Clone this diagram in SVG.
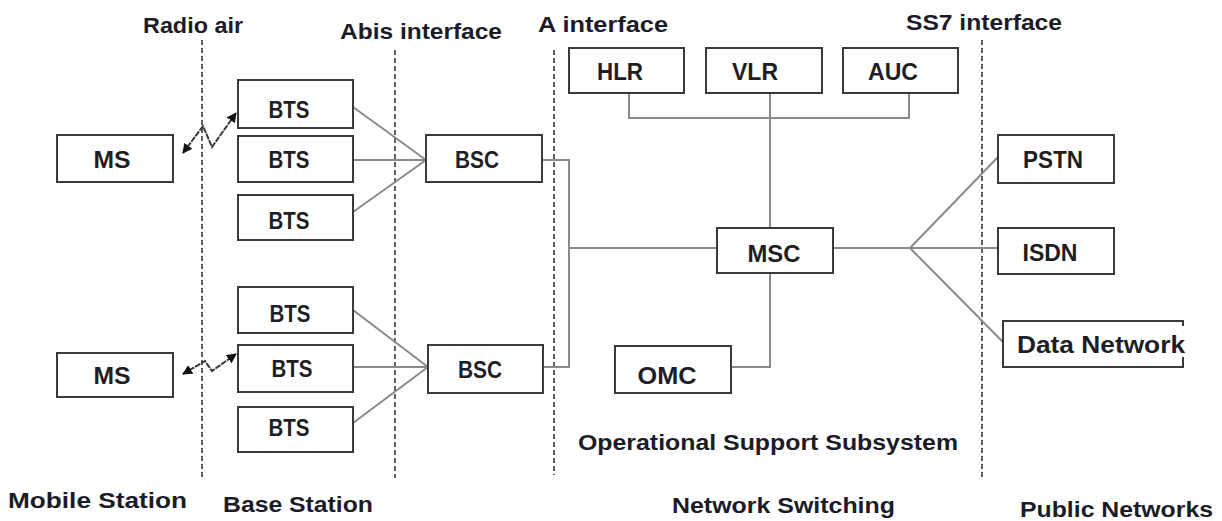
<svg xmlns="http://www.w3.org/2000/svg" width="1222" height="521" viewBox="0 0 1222 521">
<defs>
<style>
.box{fill:#fff;stroke:#3a3a3a;stroke-width:2}
.lbl{font-family:"Liberation Sans",Arial,sans-serif;font-weight:bold;font-size:23px;fill:#1e1e24;text-anchor:middle}
.hd{font-family:"Liberation Sans",Arial,sans-serif;font-weight:bold;font-size:22px;fill:#1c1c28}
.conn{fill:none;stroke:#8a8a8a;stroke-width:2}
.dash{fill:none;stroke:#3a3a3a;stroke-width:1.6;stroke-dasharray:5,3}
.radio{fill:none;stroke:#3a3a3a;stroke-width:2;stroke-dasharray:6,1}
</style>
<marker id="ah" viewBox="0 0 10 10" refX="9" refY="5" markerWidth="10" markerHeight="10" markerUnits="userSpaceOnUse" orient="auto-start-reverse">
<path d="M0,0 L10,5 L0,10 z" fill="#111"/>
</marker>
</defs>
<rect width="1222" height="521" fill="#fff"/>

<g id="interfaces">
<line class="dash" x1="202" y1="40" x2="202" y2="478"/>
<line class="dash" x1="395" y1="50" x2="395" y2="478"/>
<line class="dash" x1="554" y1="50" x2="554" y2="475"/>
<line class="dash" x1="982" y1="40" x2="982" y2="478"/>
</g>

<g id="headings">
<text class="hd" x="143" y="33" textLength="100" lengthAdjust="spacingAndGlyphs">Radio air</text>
<text class="hd" x="340" y="39" textLength="162" lengthAdjust="spacingAndGlyphs">Abis interface</text>
<text class="hd" x="538" y="32" textLength="130" lengthAdjust="spacingAndGlyphs">A interface</text>
<text class="hd" x="906" y="30" textLength="156" lengthAdjust="spacingAndGlyphs">SS7 interface</text>
<text class="hd" x="8" y="508" textLength="179" lengthAdjust="spacingAndGlyphs">Mobile Station</text>
<text class="hd" x="223" y="512" textLength="150" lengthAdjust="spacingAndGlyphs">Base Station</text>
<text class="hd" x="578" y="450" textLength="380" lengthAdjust="spacingAndGlyphs">Operational Support Subsystem</text>
<text class="hd" x="672" y="513" textLength="223" lengthAdjust="spacingAndGlyphs">Network Switching</text>
<text class="hd" x="1020" y="517" textLength="193" lengthAdjust="spacingAndGlyphs">Public Networks</text>
</g>

<g id="connectors">
<polyline class="conn" points="353,107 426,160"/>
<polyline class="conn" points="353,160 426,160"/>
<polyline class="conn" points="353,212 426,160"/>
<polyline class="conn" points="353,310 428,367"/>
<polyline class="conn" points="353,367 428,367"/>
<polyline class="conn" points="353,423 428,367"/>
<polyline class="conn" points="542,160 569,160 569,367 543,367"/>
<polyline class="conn" points="569,248 717,248"/>
<polyline class="conn" points="629,93 629,118 909,118 909,93"/>
<polyline class="conn" points="770,93 770,228"/>
<polyline class="conn" points="770,273 770,367 731,367"/>
<polyline class="conn" points="833,248 910,248"/>
<polyline class="conn" points="910,248 998,157"/>
<polyline class="conn" points="910,248 998,248"/>
<polyline class="conn" points="910,248 1003,342"/>
<polyline class="radio" points="183,153 203,126 212,147 236,113" marker-start="url(#ah)" marker-end="url(#ah)"/>
<polyline class="radio" points="183,374 205,361 212,371 236,354" marker-start="url(#ah)" marker-end="url(#ah)"/>
</g>

<g id="ms1"><rect class="box" x="57" y="135" width="116" height="47"/><text class="lbl" x="112" y="168" textLength="37" lengthAdjust="spacingAndGlyphs">MS</text></g>
<g id="ms2"><rect class="box" x="57" y="353" width="116" height="44"/><text class="lbl" x="112" y="384" textLength="37" lengthAdjust="spacingAndGlyphs">MS</text></g>

<g id="bts1"><rect class="box" x="238" y="80" width="115" height="48"/><text class="lbl" x="289" y="118" textLength="41" lengthAdjust="spacingAndGlyphs">BTS</text></g>
<g id="bts2"><rect class="box" x="238" y="136" width="115" height="46"/><text class="lbl" x="289" y="168" textLength="41" lengthAdjust="spacingAndGlyphs">BTS</text></g>
<g id="bts3"><rect class="box" x="238" y="195" width="115" height="45"/><text class="lbl" x="289" y="229" textLength="41" lengthAdjust="spacingAndGlyphs">BTS</text></g>
<g id="bts4"><rect class="box" x="238" y="287" width="115" height="46"/><text class="lbl" x="290" y="322" textLength="41" lengthAdjust="spacingAndGlyphs">BTS</text></g>
<g id="bts5"><rect class="box" x="238" y="345" width="115" height="47"/><text class="lbl" x="292" y="377" textLength="41" lengthAdjust="spacingAndGlyphs">BTS</text></g>
<g id="bts6"><rect class="box" x="238" y="407" width="115" height="45"/><text class="lbl" x="289" y="436" textLength="41" lengthAdjust="spacingAndGlyphs">BTS</text></g>

<g id="bsc1"><rect class="box" x="426" y="135" width="116" height="47"/><text class="lbl" x="477" y="168" textLength="44" lengthAdjust="spacingAndGlyphs">BSC</text></g>
<g id="bsc2"><rect class="box" x="428" y="345" width="115" height="48"/><text class="lbl" x="480" y="378" textLength="44" lengthAdjust="spacingAndGlyphs">BSC</text></g>

<g id="hlr"><rect class="box" x="569" y="48" width="115" height="45"/><text class="lbl" x="620" y="80" textLength="46" lengthAdjust="spacingAndGlyphs">HLR</text></g>
<g id="vlr"><rect class="box" x="706" y="48" width="116" height="45"/><text class="lbl" x="755" y="80" textLength="46" lengthAdjust="spacingAndGlyphs">VLR</text></g>
<g id="auc"><rect class="box" x="843" y="48" width="115" height="45"/><text class="lbl" x="893" y="80" textLength="50" lengthAdjust="spacingAndGlyphs">AUC</text></g>

<g id="msc"><rect class="box" x="717" y="228" width="116" height="45"/><text class="lbl" x="774" y="262" textLength="53" lengthAdjust="spacingAndGlyphs">MSC</text></g>
<g id="omc"><rect class="box" x="615" y="346" width="116" height="47"/><text class="lbl" x="667" y="384" textLength="59" lengthAdjust="spacingAndGlyphs">OMC</text></g>

<g id="pstn"><rect class="box" x="998" y="135" width="116" height="48"/><text class="lbl" x="1053" y="168" textLength="60" lengthAdjust="spacingAndGlyphs">PSTN</text></g>
<g id="isdn"><rect class="box" x="998" y="228" width="116" height="46"/><text class="lbl" x="1050" y="261" textLength="55" lengthAdjust="spacingAndGlyphs">ISDN</text></g>
<g id="datanet"><rect class="box" x="1003" y="321" width="180" height="46"/><rect x="1180" y="326" width="6" height="31" fill="#fff"/><text class="lbl" x="1101" y="353" textLength="168" lengthAdjust="spacingAndGlyphs">Data Network</text></g>
</svg>
